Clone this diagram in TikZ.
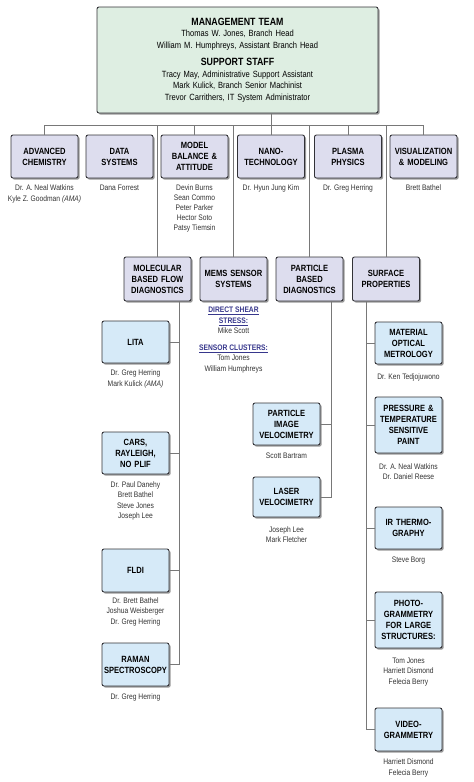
\documentclass[tikz,border=0pt]{standalone}
\usepackage{fontspec}
\setmainfont{Liberation Sans}[FakeStretch=0.84]
\usetikzlibrary{positioning,shadows}
\definecolor{mgmtgreen}{RGB}{222,238,226}
\definecolor{branchlav}{RGB}{221,221,238}
\definecolor{groupblue}{RGB}{214,234,248}
\definecolor{boxline}{RGB}{50,50,55}
\definecolor{linegray}{RGB}{120,120,120}
\definecolor{headblue}{RGB}{55,55,140}
\newcommand\subhead[1]{{\color{headblue}\bfseries\underline{#1}}}

\begin{document}
\begin{tikzpicture}[x=1pt,y=-1pt,
        box/.style={draw=boxline, line width=0.9pt, rounded corners=2pt, align=center,
                font=\fontsize{9}{11}\selectfont\bfseries, inner sep=2pt, text width=63pt,
                minimum width=67pt, minimum height=43pt,
                drop shadow={shadow xshift=1.6pt, shadow yshift=-1.6pt, opacity=0.4, fill=black}},
        branch/.style={box, fill=branchlav},
        group/.style={box, fill=groupblue},
        staff/.style={align=center, inner sep=0pt, font=\fontsize{8}{10.5}\selectfont, text=black!80},
        conn/.style={draw=linegray, line width=0.6pt}]
        \useasboundingbox (0,0) rectangle (474,782);

        % management
        \node[box, fill=mgmtgreen, text width=272pt, minimum width=281pt, minimum height=106pt,
                font=\fontsize{9}{11.5}\selectfont] (mgmt) at (237.5,60)
                {{\bfseries\fontsize{10.5}{12}\selectfont MANAGEMENT TEAM}\\
                 Thomas W. Jones, Branch Head\\
                 William M. Humphreys, Assistant Branch Head\\[6pt]
                 {\bfseries\fontsize{10.5}{12}\selectfont SUPPORT STAFF}\\
                 Tracy May, Administrative Support Assistant\\
                 Mark Kulick, Branch Senior Machinist\\
                 Trevor Carrithers, IT System Administrator};

        % branches
        \node[branch] (chem)   at (44.5,156.5)  {ADVANCED\\CHEMISTRY};
        \node[branch] (data)   at (119.5,156.5) {DATA\\SYSTEMS};
        \node[branch] (model)  at (194.5,156.5) {MODEL\\BALANCE \&\\ATTITUDE};
        \node[branch] (nano)   at (271,156.5)   {NANO-\\TECHNOLOGY};
        \node[branch] (plasma) at (348,156.5)   {PLASMA\\PHYSICS};
        \node[branch] (vis)    at (423.5,156.5) {VISUALIZATION\\\& MODELING};

        \node[staff, below=6.5pt of chem]   (chemstaff)   {Dr. A. Neal Watkins\\Kyle Z. Goodman \textit{(AMA)}};
        \node[staff, below=6.5pt of data]   (datastaff)   {Dana Forrest};
        \node[staff, below=6.5pt of model, font=\fontsize{8}{10}\selectfont] (modelstaff)
                {Devin Burns\\Sean Commo\\Peter Parker\\Hector Soto\\Patsy Tiemsin};
        \node[staff, below=6.5pt of nano]   (nanostaff)   {Dr. Hyun Jung Kim};
        \node[staff, below=6.5pt of plasma] (plasmastaff) {Dr. Greg Herring};
        \node[staff, below=6.5pt of vis]    (visstaff)    {Brett Bathel};

        % second level
        \node[branch, minimum height=44pt] (molec) at (157.5,279) {MOLECULAR\\BASED FLOW\\DIAGNOSTICS};
        \node[branch, minimum height=44pt] (mems)  at (233.5,279) {MEMS SENSOR\\SYSTEMS};
        \node[branch, minimum height=44pt] (part)  at (309.5,279) {PARTICLE\\BASED\\DIAGNOSTICS};
        \node[branch, minimum height=44pt] (surf)  at (386,279)   {SURFACE\\PROPERTIES};

        \node[staff, below=5.5pt of mems] (memsstaff)
                {\subhead{DIRECT SHEAR}\\\subhead{STRESS:}\\Mike Scott\\[6pt]
                 \subhead{SENSOR CLUSTERS:}\\Tom Jones\\William Humphreys};

        % groups
        \node[group, minimum height=42pt] (lita)  at (135.5,342)   {LITA};
        \node[group, minimum height=42pt] (cars)  at (135.5,453)   {CARS,\\RAYLEIGH,\\NO PLIF};
        \node[group, minimum height=43pt] (fldi)  at (135.5,570.5) {FLDI};
        \node[group, minimum height=43pt] (raman) at (135.5,664.5) {RAMAN\\SPECTROSCOPY};

        \node[group, minimum height=42pt] (piv)   at (286.5,424) {PARTICLE\\IMAGE\\VELOCIMETRY};
        \node[group, minimum height=40pt] (laser) at (286.5,497) {LASER\\VELOCIMETRY};

        \node[group, minimum height=42pt] (matl)  at (408.5,343)   {MATERIAL\\OPTICAL\\METROLOGY};
        \node[group, minimum height=56pt] (press) at (408.5,425)   {PRESSURE \&\\TEMPERATURE\\SENSITIVE\\PAINT};
        \node[group, minimum height=42pt] (irt)   at (408.5,528)   {IR THERMO-\\GRAPHY};
        \node[group, minimum height=56pt] (photo) at (408.5,620)   {PHOTO-\\GRAMMETRY\\FOR LARGE\\STRUCTURES:};
        \node[group, minimum height=43pt] (video) at (408.5,729.5) {VIDEO-\\GRAMMETRY};

        \node[staff, below=6.5pt of lita]  (litastaff)  {Dr. Greg Herring\\Mark Kulick \textit{(AMA)}};
        \node[staff, below=7pt of cars]    (carsstaff)  {Dr. Paul Danehy\\Brett Bathel\\Steve Jones\\Joseph Lee};
        \node[staff, below=5pt of fldi]    (fldistaff)  {Dr. Brett Bathel\\Joshua Weisberger\\Dr. Greg Herring};
        \node[staff, below=7pt of raman]   (ramanstaff) {Dr. Greg Herring};
        \node[staff, below=7pt of piv]     (pivstaff)   {Scott Bartram};
        \node[staff, below=9pt of laser]   (laserstaff) {Joseph Lee\\Mark Fletcher};
        \node[staff, below=9pt of matl]    (matlstaff)  {Dr. Ken Tedjojuwono};
        \node[staff, below=10pt of press]  (pressstaff) {Dr. A. Neal Watkins\\Dr. Daniel Reese};
        \node[staff, below=7pt of irt]     (irtstaff)   {Steve Borg};
        \node[staff, below=9pt of photo]   (photostaff) {Tom Jones\\Harriett Dismond\\Felecia Berry};
        \node[staff, below=7.5pt of video] (videostaff) {Harriett Dismond\\Felecia Berry};

        % connectors
        \coordinate (busL) at (44.5,125);
        \draw[conn] (busL) -- (vis.north |- busL);
        \draw[conn] (mgmt.south -| nano.north) -- (nano.north);
        \foreach \n in {chem,model,plasma,vis,molec,mems,part,surf}
                \draw[conn] (\n.north) -- (\n.north |- busL);

        \coordinate (molspine) at ([xshift=22pt]molec.south);
        \draw[conn] (molspine) |- (raman.east);
        \foreach \n in {lita,cars,fldi}
                \draw[conn] (\n.east) -- (\n.east -| molspine);

        \coordinate (partspine) at ([xshift=21.5pt]part.south);
        \draw[conn] (partspine) |- (laser.east);
        \draw[conn] (piv.east) -- (piv.east -| partspine);

        \coordinate (surfspine) at ([xshift=-20pt]surf.south);
        \draw[conn] (surfspine) |- (video.west);
        \foreach \n in {matl,press,irt,photo}
                \draw[conn] (\n.west) -- (\n.west -| surfspine);
\end{tikzpicture}
\end{document}
